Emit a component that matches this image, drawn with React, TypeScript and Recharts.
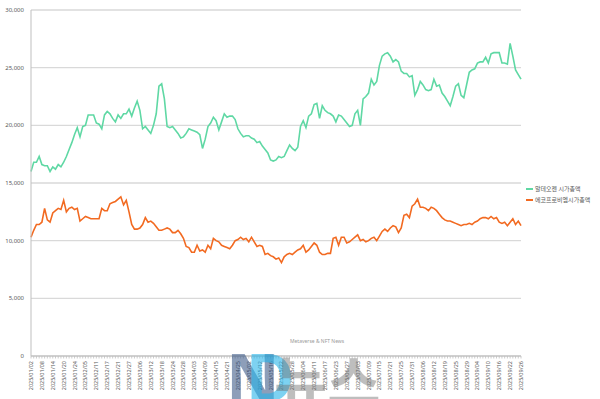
import { LineChart, Line, XAxis, YAxis, CartesianGrid } from 'recharts';

// KRX trading days, 2025
const JAN = [2, 3, 6, 7, 8, 9, 10, 13, 14, 15, 16, 17, 20, 21, 22, 23, 24, 31];
const FEB = [3, 4, 5, 6, 7, 10, 11, 12, 13, 14, 17, 18, 19, 20, 21, 24, 25, 26, 27, 28];
const MAR = [4, 5, 6, 7, 10, 11, 12, 13, 14, 17, 18, 19, 20, 21, 24, 25, 26, 27, 28, 31];
const APR = [1, 2, 3, 4, 7, 8, 9, 10, 11, 14, 15, 16, 17, 18, 21, 22, 23, 24, 25, 28, 29, 30];
const MAY = [2, 7, 8, 9, 12, 13, 14, 15, 16, 19, 20, 21, 22, 23, 26, 27, 28, 29, 30];
const JUN = [2, 4, 5, 9, 10, 11, 12, 13, 16, 17, 18, 19, 20, 23, 24, 25, 26, 27, 30];
const JUL = [1, 2, 3, 4, 7, 8, 9, 10, 11, 14, 15, 16, 17, 18, 21, 22, 23, 24, 25, 28, 29, 30, 31];
const AUG = [1, 4, 5, 6, 7, 8, 11, 12, 13, 14, 18, 19, 20, 21, 22, 25, 26, 27, 28, 29];
const SEP = [1, 2, 3, 4, 5, 8, 9, 10, 11, 12, 15, 16, 17, 18, 19, 22, 23, 24, 25, 26];

const alteogen = [
  16000, 16800, 16800, 17300, 16600, 16500, 16500, 16000, 16400, 16200,
  16600, 16400, 16800, 17300, 17900, 18500, 19200, 19800, 19000, 19900,
  20000, 20900, 20900, 20900, 20200, 20100, 19700, 20900, 21200, 21000,
  20600, 20300, 20900, 20600, 21000, 21000, 21400, 20800, 21500, 22100,
  21300, 19700, 19900, 19600, 19300, 20000, 21000, 23400, 23600, 22300,
  19900, 19800, 19900, 19600, 19300, 18900, 19000, 19300, 19700, 19600,
  19500, 19400, 19200, 18000, 18800, 19900, 20200, 20700, 20400, 19600,
  20300, 21000, 20700, 20800, 20800, 20500, 19700, 19300, 19000, 19100,
  19100, 18900, 18800, 18500, 18600, 18200, 17900, 17600, 17000, 16900,
  17000, 17300, 17200, 17300, 17800, 18300, 18000, 17800, 18100, 19900,
  20400, 19800, 20800, 21000, 21800, 21900, 20600, 21700, 21300, 21100,
  21000, 20800, 20300, 20900, 20800, 20500, 20200, 19900, 20000, 21000,
  21300, 20000, 22300, 22500, 22800, 24000, 23500, 23800, 25200, 26000,
  26200, 26300, 26000, 25500, 25700, 25500, 24700, 24500, 24500, 24200,
  24300, 22600, 23100, 23800, 23500, 23100, 23000, 23100, 24000, 23400,
  23500, 22800, 22500, 22100, 21700, 22500, 23400, 23600, 22600, 22400,
  23500, 24600, 24800, 24900, 25400, 25500, 25500, 25900, 25400, 26200,
  26300, 26300, 26300, 25400, 25400, 25300, 27100, 26000, 24800, 24400,
  24000,
];

const ecoproBM = [
  10300, 10900, 11400, 11400, 11600, 12800, 11800, 11600, 12400, 12600,
  12800, 12700, 13500, 12500, 12800, 12900, 12700, 12800, 11700, 11900,
  12100, 12000, 11900, 11900, 11900, 11900, 12800, 12600, 12600, 13200,
  13300, 13400, 13600, 13800, 13100, 13500, 12500, 11400, 11000, 11000,
  11100, 11400, 12000, 11600, 11700, 11500, 11200, 10900, 10900, 11000,
  11100, 11000, 10700, 10700, 10900, 10600, 10200, 9500, 9400, 9000,
  9000, 9600, 9100, 9200, 9000, 9600, 9300, 10200, 10000, 9900,
  9600, 9500, 9400, 9300, 9600, 10000, 10100, 10300, 10100, 10200,
  9900, 10300, 9900, 9500, 9600, 9500, 8800, 8900, 8700, 8600,
  8400, 8500, 8100, 8600, 8800, 8900, 8800, 9000, 9200, 9300,
  9600, 9000, 9200, 9500, 9800, 9600, 9000, 8800, 8800, 8900,
  8900, 10200, 10300, 9600, 10300, 10300, 9800, 9900, 10100, 10300,
  10500, 10000, 10100, 9900, 10000, 10200, 10300, 10000, 10400, 10800,
  11000, 10800, 11100, 11300, 11200, 10700, 11100, 12200, 12300, 12000,
  13000, 13200, 13600, 12900, 12900, 12800, 12600, 12900, 12800, 12600,
  12300, 12000, 11800, 11700, 11700, 11600, 11500, 11400, 11300, 11400,
  11400, 11500, 11400, 11600, 11700, 11900, 12000, 12000, 11900, 12100,
  11900, 12000, 11600, 11500, 11600, 11300, 11600, 11900, 11400, 11700,
  11300,
];

const yTicks = [0, 5000, 10000, 15000, 20000, 25000, 30000];

const months = [JAN, FEB, MAR, APR, MAY, JUN, JUL, AUG, SEP];
const pad = (n: number) => String(n).padStart(2, '0');
const dates = months.flatMap((days, m) => days.map((d) => `2025/${pad(m + 1)}/${pad(d)}`));

const data = dates.map((date, i) => ({
  date,
  alteogen: alteogen[i],
  ecoproBM: ecoproBM[i],
}));

const GREEN = '#5fd8a4';
const ORANGE = '#f26a21';
const TEXT = '#595959';

function DateTick(props: any) {
  const { x, y, payload } = props;
  const show = payload.index % 4 === 0;
  return (
    <g transform={`translate(${x},${y})`}>
      <line x1={0} y1={0} x2={0} y2={2.5} stroke="#bfbfbf" strokeWidth={0.8} />
      {show && (
        <text
          transform="rotate(-90)"
          x={-5}
          y={2}
          textAnchor="end"
          fontSize={5.5}
          fill={TEXT}
          fontFamily="Noto Sans, sans-serif"
        >
          {payload.value}
        </text>
      )}
    </g>
  );
}

// site watermark drawn over the chart
function Watermark() {
  return (
    <svg
      width={600}
      height={399}
      style={{ position: 'absolute', left: 0, top: 0, pointerEvents: 'none' }}
    >
      <text x={290} y={343} fontSize={5} fill="#9a9a9a" fontFamily="Noto Sans, sans-serif">
        Metaverse &amp; NFT News
      </text>
      <text
        x={226}
        y={402}
        fontSize={66}
        fontWeight={700}
        fill="#2f4f7f"
        fillOpacity={0.55}
        fontFamily="Noto Sans, sans-serif"
      >
        N
      </text>
      <text
        x={246}
        y={402}
        fontSize={66}
        fontWeight={700}
        fill="#27b4ea"
        fillOpacity={0.6}
        fontFamily="Noto Sans, sans-serif"
      >
        D
      </text>
      <text
        x={274}
        y={404}
        fontSize={58}
        fontWeight={700}
        fill="#6e6e6e"
        fillOpacity={0.45}
        fontFamily='"Noto Sans CJK KR", sans-serif'
      >
        뉴스
      </text>
    </svg>
  );
}

export default function App() {
  return (
    <div
      style={{
        position: 'absolute',
        left: 0,
        top: 0,
        width: 600,
        height: 399,
        background: '#fff',
        overflow: 'hidden',
      }}
    >
      <LineChart
        width={600}
        height={399}
        data={data}
        margin={{ top: 10, right: 79, left: 0, bottom: 0 }}
      >
        <CartesianGrid vertical={false} stroke="#d9d9d9" strokeWidth={1.3} />
        <XAxis
          dataKey="date"
          interval={0}
          height={43}
          tickLine={false}
          tickSize={0}
          tickMargin={0}
          axisLine={{ stroke: '#bfbfbf' }}
          tick={<DateTick />}
        />
        <YAxis
          width={31}
          domain={[0, 30000]}
          ticks={yTicks}
          tickLine={false}
          tickSize={0}
          tickMargin={7}
          axisLine={{ stroke: '#bfbfbf' }}
          tick={{ fontSize: 6, fill: TEXT, fontFamily: 'Noto Sans, sans-serif' }}
          tickFormatter={(v: number) => v.toLocaleString('en-US')}
        />
        <Line
          type="linear"
          dataKey="alteogen"
          stroke={GREEN}
          strokeWidth={1.6}
          dot={false}
          isAnimationActive={false}
        />
        <Line
          type="linear"
          dataKey="ecoproBM"
          stroke={ORANGE}
          strokeWidth={1.6}
          dot={false}
          isAnimationActive={false}
        />
      </LineChart>
      <div
        style={{
          position: 'absolute',
          left: 526,
          top: 183,
          fontSize: 6,
          color: TEXT,
          fontFamily: '"Noto Sans CJK KR", sans-serif',
          lineHeight: '11px',
        }}
      >
        <div style={{ display: 'flex', alignItems: 'center' }}>
          <span style={{ width: 7, height: 2, background: GREEN, marginRight: 2 }} />
          알테오젠 시가총액
        </div>
        <div style={{ display: 'flex', alignItems: 'center' }}>
          <span style={{ width: 7, height: 2, background: ORANGE, marginRight: 2 }} />
          에코프로비엠시가총액
        </div>
      </div>
      <Watermark />
    </div>
  );
}
